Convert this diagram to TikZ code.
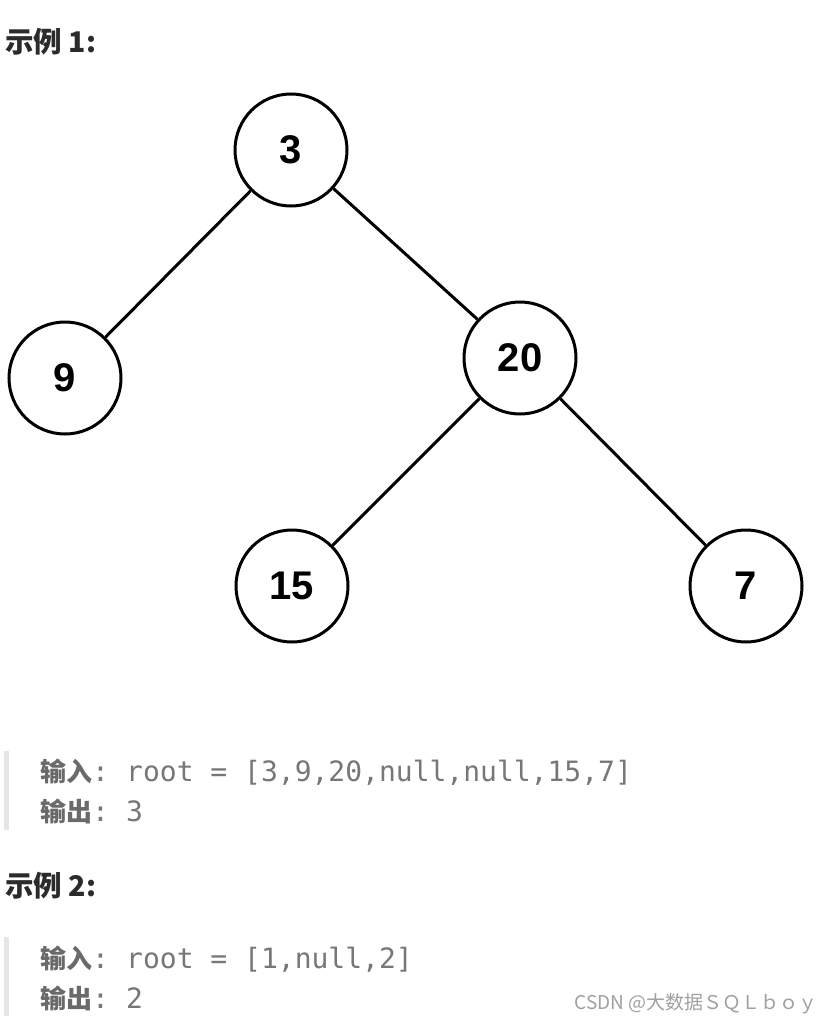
\documentclass[tikz,border=0pt]{standalone}
\usepackage{fontspec}
\setmainfont{Liberation Sans}
\newfontfamily\cjk{Noto Sans CJK SC}
\newfontfamily\mono{DejaVu Sans Mono}
\definecolor{codegray}{HTML}{777777}
\definecolor{labgray}{HTML}{6A6A6A}
\definecolor{headc}{HTML}{2B2B2B}
\definecolor{barc}{HTML}{E6E6E6}
\definecolor{wmc}{HTML}{A0A0A0}
\begin{document}
\begin{tikzpicture}[x=1pt,y=-1pt,
  treenode/.style={circle,draw=black,line width=3pt,minimum size=112pt,inner sep=0pt,
    font=\fontsize{40}{40}\selectfont\bfseries},
  edge/.style={line width=3pt},
  head/.style={anchor=base west,inner sep=0pt,text=headc,font=\cjk\bfseries\fontsize{28.5}{28.5}\selectfont},
  lab/.style={anchor=base west,inner sep=0pt,text=labgray,font=\cjk\bfseries\fontsize{26}{26}\selectfont},
  code/.style={anchor=base west,inner sep=0pt,text=codegray,font=\mono\fontsize{28}{28}\selectfont},
  bar/.style={fill=barc,draw=none}]
\useasboundingbox (0,0) rectangle (833,1022);
\fill[white] (0,0) rectangle (833,1022);

\node[head] (h1) at (5,53) {示例 1:};

\begin{scope}
\clip (0,60) rectangle (833,644);
\node[treenode] (n3) at (291,150) {3};
\node[treenode] (n9) at (65,378) {9};
\node[treenode] (n20) at (520,358) {20};
\node[treenode] (n15) at (292,586) {15};
\node[treenode] (n7) at (746,586) {7};
\draw[edge] (n3) -- (n9);
\draw[edge] (n3) -- (n20);
\draw[edge] (n20) -- (n15);
\draw[edge] (n20) -- (n7);
\end{scope}

\fill[bar] (4,751) rectangle (9,830);
\node[lab] (in1) at (40,781) {输入};
\node[code] (k1) at (92,781) {:};
\node[code] (c1) at (126,781) {root = [3,9,20,null,null,15,7]};
\node[lab] (out1) at (40,821) {输出};
\node[code] (k2) at (92,821) {:};
\node[code] (c2) at (126,821) {3};

\node[head] (h2) at (5,896) {示例 2:};

\fill[bar] (4,937) rectangle (9,1016);
\node[lab] (in2) at (40,968) {输入};
\node[code] (k3) at (92,968) {:};
\node[code] (c3) at (126,968) {root = [1,null,2]};
\node[lab] (out2) at (40,1008) {输出};
\node[code] (k4) at (92,1008) {:};
\node[code] (c4) at (126,1008) {2};

\node[anchor=base east,inner sep=0pt,text=wmc,font=\cjk\fontsize{19}{19}\selectfont] (wm) at (818,1009) {CSDN @大数据ＳＱＬｂｏｙ};
\end{tikzpicture}
\end{document}
